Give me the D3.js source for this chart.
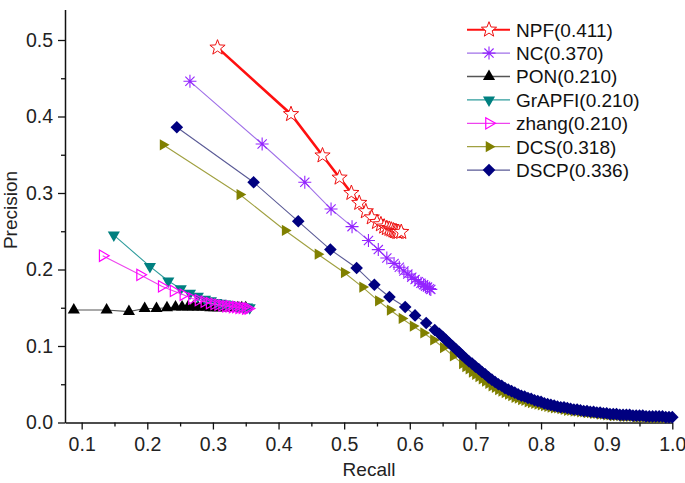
<!DOCTYPE html>
<html><head><meta charset="utf-8">
<script src="https://cdn.jsdelivr.net/npm/d3@7/dist/d3.min.js"></script>
<style>html,body{margin:0;padding:0;background:#fff;}svg{display:block;font-family:"Liberation Sans",Arial,sans-serif;}</style>
</head><body>
<svg id="c" width="685" height="483"></svg>
<script>
// ---- data ----
const seriesNames = ["NPF(0.411)","NC(0.370)","PON(0.210)","GrAPFI(0.210)","zhang(0.210)","DCS(0.318)","DSCP(0.336)"];
const xTicks = [0.1,0.2,0.3,0.4,0.5,0.6,0.7,0.8,0.9,1.0];
const yTicks = [0.0,0.1,0.2,0.3,0.4,0.5];

const npfRecall    = [0.307,0.419,0.467,0.493,0.511,0.523,0.533,0.542,0.550,0.556,0.561,0.565,0.569,0.572,0.575,0.577,0.579,0.581,0.583,0.587];
const npfPrecision = [0.490,0.403,0.349,0.320,0.300,0.287,0.276,0.268,0.262,0.259,0.256,0.254,0.253,0.252,0.251,0.250,0.250,0.249,0.249,0.249];

const ncRecall    = [0.265,0.375,0.440,0.480,0.512,0.537,0.552,0.565,0.576,0.584,0.591,0.597,0.603,0.608,0.613,0.617,0.621,0.624,0.627,0.630,0.632];
const ncPrecision = [0.446,0.364,0.314,0.279,0.256,0.238,0.226,0.215,0.208,0.203,0.198,0.194,0.190,0.187,0.184,0.182,0.180,0.178,0.177,0.175,0.174];

const ponRecall    = [0.088,0.138,0.172,0.196,0.214,0.230,0.243,0.253,0.262,0.270,0.277,0.284,0.290,0.296,0.302,0.308,0.314,0.320,0.326,0.332,0.338,0.344,0.350];
const ponPrecision = [0.147,0.147,0.145,0.149,0.149,0.150,0.151,0.151,0.151,0.151,0.151,0.151,0.151,0.150,0.150,0.150,0.150,0.150,0.150,0.150,0.150,0.150,0.150];

const grapfiRecall    = [0.149,0.204,0.232,0.251,0.265,0.277,0.288,0.297,0.305,0.312,0.319,0.325,0.331,0.337,0.342,0.347,0.352,0.356];
const grapfiPrecision = [0.245,0.204,0.185,0.175,0.169,0.165,0.161,0.159,0.157,0.156,0.155,0.154,0.153,0.152,0.152,0.151,0.151,0.150];

const zhangRecall    = [0.132,0.189,0.222,0.240,0.255,0.268,0.278,0.287,0.295,0.302,0.308,0.314,0.320,0.325,0.330,0.335,0.340,0.345,0.350,0.354];
const zhangPrecision = [0.218,0.193,0.178,0.172,0.167,0.162,0.160,0.158,0.156,0.155,0.154,0.153,0.152,0.152,0.151,0.151,0.150,0.150,0.149,0.149];

const dcsRecall = [0.224,0.341,0.410,0.460,0.500,0.528,0.552,0.570,0.588,0.605,0.621,0.636,0.651,0.666,0.680,
  0.685,0.690,0.695,0.700,0.705,0.710,0.715,0.720,0.725,0.730,0.735,0.740,0.745,0.750,0.755,0.760,0.765,0.770,0.775,0.780,0.785,0.790,0.795,0.800,
  0.805,0.810,0.815,0.820,0.825,0.830,0.835,0.840,0.845,0.850,0.855,0.860,0.865,0.870,0.875,0.880,0.885,0.890,0.895,0.900,
  0.905,0.910,0.915,0.920,0.925,0.930,0.935,0.940,0.945,0.950,0.955,0.960,0.965,0.970,0.975,0.980,0.985,0.990];
const dcsPrecision = [0.363,0.298,0.251,0.220,0.196,0.177,0.159,0.147,0.136,0.126,0.117,0.108,0.098,0.087,0.077,
  0.073,0.070,0.066,0.063,0.060,0.057,0.054,0.051,0.048,0.046,0.043,0.041,0.039,0.037,0.035,0.033,0.032,0.030,0.029,0.027,0.026,0.025,0.024,0.023,
  0.022,0.021,0.020,0.019,0.019,0.018,0.017,0.016,0.016,0.015,0.015,0.014,0.014,0.013,0.013,0.012,0.012,0.011,0.011,0.010,
  0.010,0.009,0.009,0.009,0.008,0.008,0.008,0.008,0.007,0.007,0.007,0.007,0.006,0.006,0.006,0.006,0.006,0.006];

const dscpRecall = [0.245,0.362,0.430,0.479,0.519,0.546,0.569,0.593,0.608,0.625,0.638,
  0.645,0.650,0.655,0.660,0.665,0.670,0.675,0.680,0.685,0.690,0.695,0.700,0.705,0.710,0.715,0.720,0.725,0.730,0.735,0.740,0.745,0.750,
  0.755,0.760,0.765,0.770,0.775,0.780,0.785,0.790,0.795,0.800,0.805,0.810,0.815,0.820,0.825,0.830,0.835,0.840,0.845,0.850,
  0.855,0.860,0.865,0.870,0.875,0.880,0.885,0.890,0.895,0.900,0.905,0.910,0.915,0.920,0.925,0.930,0.935,0.940,0.945,0.950,
  0.955,0.960,0.965,0.970,0.975,0.980,0.985,0.990,0.995,1.000];
const dscpPrecision = [0.386,0.314,0.263,0.226,0.202,0.180,0.164,0.151,0.140,0.130,0.121,
  0.116,0.112,0.108,0.104,0.100,0.096,0.092,0.088,0.084,0.080,0.077,0.073,0.070,0.066,0.063,0.059,0.056,0.053,0.050,0.048,0.045,0.043,
  0.041,0.039,0.037,0.035,0.034,0.032,0.031,0.029,0.028,0.027,0.025,0.024,0.023,0.022,0.021,0.020,0.020,0.019,0.018,0.017,
  0.017,0.016,0.015,0.015,0.014,0.014,0.013,0.013,0.012,0.012,0.011,0.011,0.011,0.010,0.010,0.010,0.010,0.009,0.009,0.009,
  0.009,0.008,0.008,0.008,0.008,0.008,0.008,0.007,0.007,0.007];

const seriesRecall = [npfRecall,ncRecall,ponRecall,grapfiRecall,zhangRecall,dcsRecall,dscpRecall];
const seriesPrecision = [npfPrecision,ncPrecision,ponPrecision,grapfiPrecision,zhangPrecision,dcsPrecision,dscpPrecision];

// ---- styles ----
const styles = [
  {lineColor:"#ff1010", lw:2.6, marker:"star",  r:8,   fill:"#ffffff", stroke:"#ee1111", sw:1},
  {lineColor:"#a070e8", lw:1.1, marker:"aster", r:6.5, fill:"none",    stroke:"#9424ff", sw:1.1},
  {lineColor:"#555555", lw:1.1, marker:"up",    r:7,   fill:"#000000", stroke:"none",    sw:0},
  {lineColor:"#2e9c9c", lw:1.1, marker:"down",  r:7,   fill:"#008080", stroke:"none",    sw:0},
  {lineColor:"#ee44ee", lw:1.1, marker:"rightOpen", r:6.5, fill:"none", stroke:"#ff00ff", sw:1.2},
  {lineColor:"#a0a040", lw:1.1, marker:"right", r:6.5, fill:"#808000", stroke:"none",    sw:0},
  {lineColor:"#5a5a96", lw:1.1, marker:"diamond", r:6.3, fill:"#000080", stroke:"none",  sw:0}
];

function markerPath(type, r){
  const p = d3.path();
  const poly = pts => { p.moveTo(pts[0][0],pts[0][1]); for(let i=1;i<pts.length;i++) p.lineTo(pts[i][0],pts[i][1]); p.closePath(); };
  if(type==="star"){
    const pts=[]; for(let i=0;i<10;i++){const a=-Math.PI/2+i*Math.PI/5; const rr=i%2===0?r:r*0.42; pts.push([rr*Math.cos(a),rr*Math.sin(a)]);} poly(pts);
  } else if(type==="aster"){
    for(let i=0;i<4;i++){const a=i*Math.PI/4; p.moveTo(-r*Math.cos(a),-r*Math.sin(a)); p.lineTo(r*Math.cos(a),r*Math.sin(a));}
  } else if(type==="up"){
    poly([[0,-r],[r*0.866,r*0.5],[-r*0.866,r*0.5]]);
  } else if(type==="down"){
    poly([[0,r],[r*0.866,-r*0.5],[-r*0.866,-r*0.5]]);
  } else if(type==="right"||type==="rightOpen"){
    poly([[r,0],[-r*0.5,r*0.866],[-r*0.5,-r*0.866]]);
  } else if(type==="diamond"){
    poly([[0,-r],[r,0],[0,r],[-r,0]]);
  }
  return p.toString();
}

const svg = d3.select("#c");
const x = d3.scaleLinear().domain([0.0746,1.0]).range([65,672.3]);
const y = d3.scaleLinear().domain([0,0.54]).range([422.5,9.4]);

// axes
const xAxis = svg.append("g").attr("transform","translate(0,422.5)")
  .call(d3.axisBottom(x).tickValues(xTicks).tickFormat(d3.format(".1f")).tickSize(7).tickSizeOuter(0));
svg.append("g").attr("transform","translate(0,422.5)")
  .call(d3.axisBottom(x).tickValues(d3.range(0.15,1.0,0.1)).tickFormat("").tickSize(4).tickSizeOuter(0))
  .select(".domain").remove();
const yAxis = svg.append("g").attr("transform","translate(65,0)")
  .call(d3.axisLeft(y).tickValues(yTicks).tickFormat(d3.format(".1f")).tickSize(7).tickSizeOuter(0));
svg.append("g").attr("transform","translate(65,0)")
  .call(d3.axisLeft(y).tickValues(d3.range(0.05,0.5,0.1)).tickFormat("").tickSize(4).tickSizeOuter(0))
  .select(".domain").remove();
svg.selectAll(".domain").attr("stroke","#111").attr("stroke-width",1.5);
svg.selectAll(".tick line").attr("stroke","#111").attr("stroke-width",1.3);
xAxis.selectAll("text").attr("font-size",19.5).attr("fill","#222").attr("dy","0.95em").attr("font-family","Liberation Sans, Arial, sans-serif");
yAxis.selectAll("text").attr("font-size",19.5).attr("fill","#222").attr("dx","-0.1em").attr("font-family","Liberation Sans, Arial, sans-serif");

svg.append("text").attr("x",369).attr("y",476).attr("text-anchor","middle").attr("font-size",19).attr("fill","#222").text("Recall");
svg.append("text").attr("transform","translate(17,210) rotate(-90)").attr("text-anchor","middle").attr("font-size",19).attr("fill","#222").text("Precision");

// series
const line = d3.line().x(d=>x(d[0])).y(d=>y(d[1]));
seriesNames.forEach((name,i)=>{
  const s = styles[i];
  const data = seriesRecall[i].map((r,j)=>[r,seriesPrecision[i][j]]);
  const g = svg.append("g");
  g.append("path").datum(data).attr("d",line).attr("fill","none").attr("stroke",s.lineColor).attr("stroke-width",s.lw);
  g.selectAll("path.m").data(data).join("path").attr("class","m")
    .attr("transform",d=>`translate(${x(d[0])},${y(d[1])})`)
    .attr("d",markerPath(s.marker,s.r)).attr("fill",s.fill).attr("stroke",s.stroke).attr("stroke-width",s.sw);
});

// legend
const lg = svg.append("g");
seriesNames.forEach((name,i)=>{
  const s = styles[i];
  const cy = 29.7 + i*23.4;
  lg.append("line").attr("x1",467).attr("x2",510).attr("y1",cy).attr("y2",cy).attr("stroke",s.lineColor).attr("stroke-width",i===0?2:1.3);
  lg.append("path").attr("transform",`translate(489,${cy})`).attr("d",markerPath(s.marker,s.r)).attr("fill",s.fill).attr("stroke",s.stroke).attr("stroke-width",s.sw);
  lg.append("text").attr("x",516).attr("y",cy).attr("dy","0.36em").attr("font-size",19).attr("fill","#111").text(name);
});
</script>
</body></html>
